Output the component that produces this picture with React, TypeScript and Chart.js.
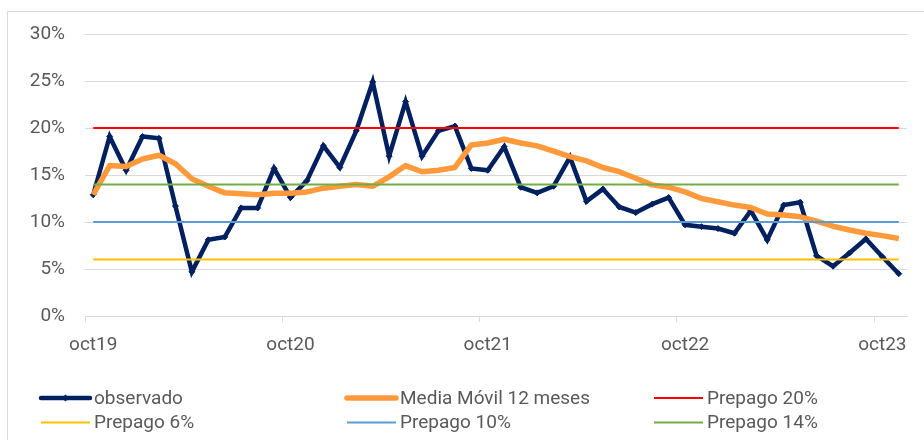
import { useEffect, useRef } from 'react';
import { Chart, registerables } from 'chart.js';

Chart.register(...registerables);

// ---- data ----
const monthAbbr = ['oct', 'nov', 'dic', 'ene', 'feb', 'mar', 'abr', 'may', 'jun', 'jul', 'ago', 'sep'];
const categories: string[] = Array.from({ length: 50 }, (_, i) => monthAbbr[i % 12] + String(19 + Math.floor((i + 9) / 12)));

const observado = [
  12.9, 19.1, 15.5, 19.1, 18.9, 11.7, 4.7, 8.1, 8.4, 11.5,
  11.5, 15.7, 12.6, 14.4, 18.1, 15.8, 19.7, 24.9, 17.0, 22.8,
  17.0, 19.7, 20.2, 15.7, 15.5, 18.0, 13.7, 13.1, 13.8, 16.9,
  12.2, 13.5, 11.6, 11.0, 11.9, 12.6, 9.7, 9.5, 9.3, 8.8,
  11.2, 8.1, 11.8, 12.1, 6.4, 5.3, 6.7, 8.2, 6.3, 4.5,
];

const mediaMovil = [
  12.9, 16.0, 15.9, 16.7, 17.1, 16.2, 14.6, 13.8, 13.1, 13.0,
  12.9, 13.05, 13.05, 13.2, 13.6, 13.8, 14.0, 13.8, 14.8, 16.0,
  15.35, 15.5, 15.8, 18.2, 18.4, 18.8, 18.4, 18.1, 17.55, 16.95,
  16.5, 15.8, 15.35, 14.65, 13.95, 13.7, 13.2, 12.5, 12.15, 11.8,
  11.55, 10.85, 10.75, 10.55, 10.1, 9.55, 9.15, 8.8, 8.55, 8.25,
];

const prepagoLevels = [20, 6, 10, 14];
const constantSeries = (v: number) => categories.map(() => v);

const yTicks = [0, 5, 10, 15, 20, 25, 30];
const tickLabelEvery = 12;

// ---- style ----
const FONT = 'Roboto';
const TEXT = '#595959';
const GRID = '#d9d9d9';

const legendLayout = { colX: [41, 347, 654], rowY: [398, 422.5], lineLen: 49, textGap: 4 };

const framePlugin = {
  id: 'frame',
  beforeDraw(chart: any) {
    const ctx = chart.ctx;
    ctx.save();
    ctx.strokeStyle = GRID;
    ctx.lineWidth = 1;
    ctx.beginPath();
    ctx.moveTo(7.5, chart.height);
    ctx.lineTo(7.5, 11.5);
    ctx.lineTo(chart.width, 11.5);
    ctx.stroke();
    ctx.restore();
  },
};

const legendPlugin = {
  id: 'gridLegend',
  afterDraw(chart: any) {
    const ctx = chart.ctx;
    ctx.save();
    chart.data.datasets.forEach((ds: any, i: number) => {
      const x = legendLayout.colX[i % 3];
      const y = legendLayout.rowY[Math.floor(i / 3)];
      ctx.strokeStyle = ds.borderColor;
      ctx.lineWidth = ds.borderWidth;
      ctx.lineCap = ds.borderWidth > 3 ? 'round' : 'butt';
      ctx.beginPath();
      ctx.moveTo(x, y);
      ctx.lineTo(x + legendLayout.lineLen, y);
      ctx.stroke();
      if (ds.pointRadius > 0) {
        const cx = x + legendLayout.lineLen / 2;
        const r = ds.pointRadius + 0.5;
        ctx.fillStyle = ds.borderColor;
        ctx.beginPath();
        ctx.moveTo(cx, y - r);
        ctx.lineTo(cx + r, y);
        ctx.lineTo(cx, y + r);
        ctx.lineTo(cx - r, y);
        ctx.closePath();
        ctx.fill();
      }
      ctx.fillStyle = TEXT;
      ctx.font = `19px ${FONT}`;
      ctx.textBaseline = 'middle';
      ctx.textAlign = 'left';
      ctx.fillText(ds.label, x + legendLayout.lineLen + legendLayout.textGap, y + 1);
    });
    ctx.restore();
  },
};

export default function App() {
  const ref = useRef<HTMLCanvasElement | null>(null);

  useEffect(() => {
    if (!ref.current) return;
    const refColors = ['#FF0000', '#FFC000', '#5B9BD5', '#70AD47'];
    const refLabels = ['Prepago 20%', 'Prepago 6%', 'Prepago 10%', 'Prepago 14%'];
    const datasets: any[] = [
      {
        label: 'observado',
        data: observado,
        borderColor: '#002060',
        backgroundColor: '#002060',
        borderWidth: 4.5,
        pointStyle: 'rectRot',
        pointRadius: 3,
        pointBackgroundColor: '#002060',
        pointBorderColor: '#002060',
        pointBorderWidth: 1,
        tension: 0,
        order: 6,
      },
      {
        label: 'Media Móvil 12 meses',
        data: mediaMovil,
        borderColor: '#FF9A3C',
        backgroundColor: '#FF9A3C',
        borderWidth: 5.5,
        pointRadius: 0,
        tension: 0,
        borderJoinStyle: 'round',
        order: 5,
      },
      ...prepagoLevels.map((lvl, k) => ({
        label: refLabels[k],
        data: constantSeries(lvl),
        borderColor: refColors[k],
        backgroundColor: refColors[k],
        borderWidth: 2,
        pointRadius: 0,
        order: 4 - k,
      })),
    ];

    const chart = new Chart(ref.current, {
      type: 'line',
      data: { labels: categories, datasets },
      plugins: [framePlugin, legendPlugin],
      options: {
        animation: false,
        responsive: false,
        devicePixelRatio: 1,
        layout: { padding: { left: 0, right: 17, top: 34, bottom: 74 } },
        plugins: { legend: { display: false }, tooltip: { enabled: false } },
        scales: {
          x: {
            type: 'category',
            offset: true,
            grid: {
              display: true,
              drawOnChartArea: false,
              drawTicks: true,
              tickLength: 6,
              offset: true,
              lineWidth: 1,
              color: (c: any) => (c.index !== undefined && c.index % tickLabelEvery === 0 ? GRID : 'rgba(0,0,0,0)'),
            },
            border: { display: true, color: GRID, width: 1 },
            ticks: {
              autoSkip: false,
              maxRotation: 0,
              minRotation: 0,
              padding: 12,
              color: TEXT,
              font: { family: FONT, size: 19 },
              callback: (_v: any, i: number) => (i % tickLabelEvery === 0 ? categories[i] : ''),
            },
            afterFit: (s: any) => {
              s.height = 50;
            },
          },
          y: {
            min: yTicks[0],
            max: yTicks[yTicks.length - 1],
            grid: { color: GRID, lineWidth: 1, drawTicks: false },
            border: { display: false },
            ticks: {
              stepSize: 5,
              padding: 20,
              color: TEXT,
              font: { family: FONT, size: 19 },
              callback: (v: any) => v + '%',
            },
            afterFit: (s: any) => {
              s.width = 85;
            },
          },
        },
      },
    });
    return () => chart.destroy();
  }, []);

  return (
    <div style={{ position: 'absolute', left: 0, top: 0, width: 924, height: 440, background: '#fff' }}>
      <canvas ref={ref} width={924} height={440} style={{ display: 'block', width: 924, height: 440 }} />
    </div>
  );
}
